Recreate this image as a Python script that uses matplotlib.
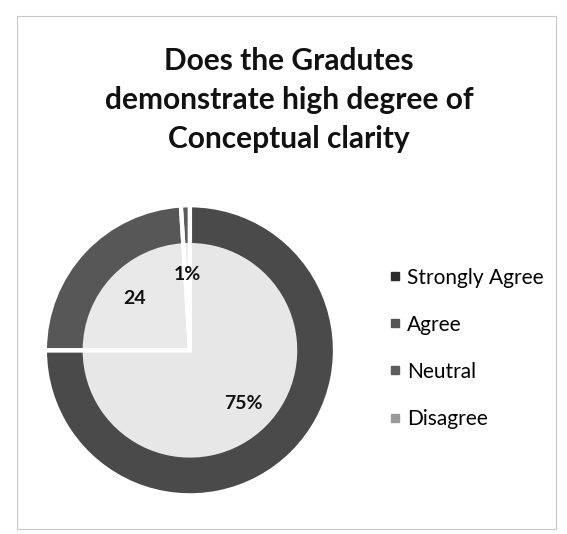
import matplotlib.pyplot as plt
from matplotlib.lines import Line2D
from matplotlib.patches import Rectangle

plt.rcParams['font.family'] = ['Lato', 'DejaVu Sans']

title = "Does the Gradutes\ndemonstrate high degree of\nConceptual clarity"
categories = ["Strongly Agree", "Agree", "Neutral", "Disagree"]
values = [75, 24, 1, 0]
value_labels = ["75%", "24", "1%", ""]
colors = ["#4a4a4a", "#575757", "#5c5c5c", "#9a9a9a"]
legend_colors = ["#2b2b2b", "#555555", "#5e5e5e", "#9a9a9a"]

fig = plt.figure(figsize=(5.67, 5.34), dpi=100)
fig.patch.set_facecolor("white")

# thin frame round the chart area, like the scanned Excel chart
fig.patches.append(Rectangle((0.03, 0.01), 0.95, 0.96, transform=fig.transFigure,
                             fill=False, edgecolor="#c8c8c8", linewidth=0.8))

fig.text(0.51, 0.912, title, ha="center", va="top", fontsize=21.5,
         fontweight="bold", color="#111111", linespacing=1.48)

ax = fig.add_axes([0.074, 0.067, 0.522, 0.554])
pie_kw = dict(startangle=90, counterclock=False)
wedges, texts, autotexts = ax.pie(
    values, colors=colors, autopct=lambda p: "", pctdistance=0.52,
    wedgeprops=dict(edgecolor="none"), **pie_kw)
# lighter inner area (the washed-out gradient of the scan)
ax.pie(values, colors=["#f6f6f6"] * len(values), radius=0.74,
       wedgeprops=dict(edgecolor="none", alpha=0.92), **pie_kw)
# white separators between slices on top
ax.pie(values, colors=["none"] * len(values),
       wedgeprops=dict(edgecolor="white", linewidth=3, fill=False), **pie_kw)
for t, lab in zip(autotexts, value_labels):
    t.set_text(lab)
    t.set_fontsize(14)
    t.set_fontweight("bold")
    t.set_color("#111111")
    t.set_zorder(5)
ax.set_aspect("equal")
ax.set_xlim(-1.02, 1.02)
ax.set_ylim(-1.02, 1.02)

handles = [Line2D([], [], marker="s", linestyle="none", markersize=6,
                  markerfacecolor=c, markeredgecolor=c) for c in legend_colors]
fig.legend(handles, categories, loc="center left", bbox_to_anchor=(0.652, 0.348),
           frameon=False, fontsize=15, handlelength=0.6, handletextpad=0.3,
           labelspacing=1.3)

fig.savefig("out.png", dpi=100)
